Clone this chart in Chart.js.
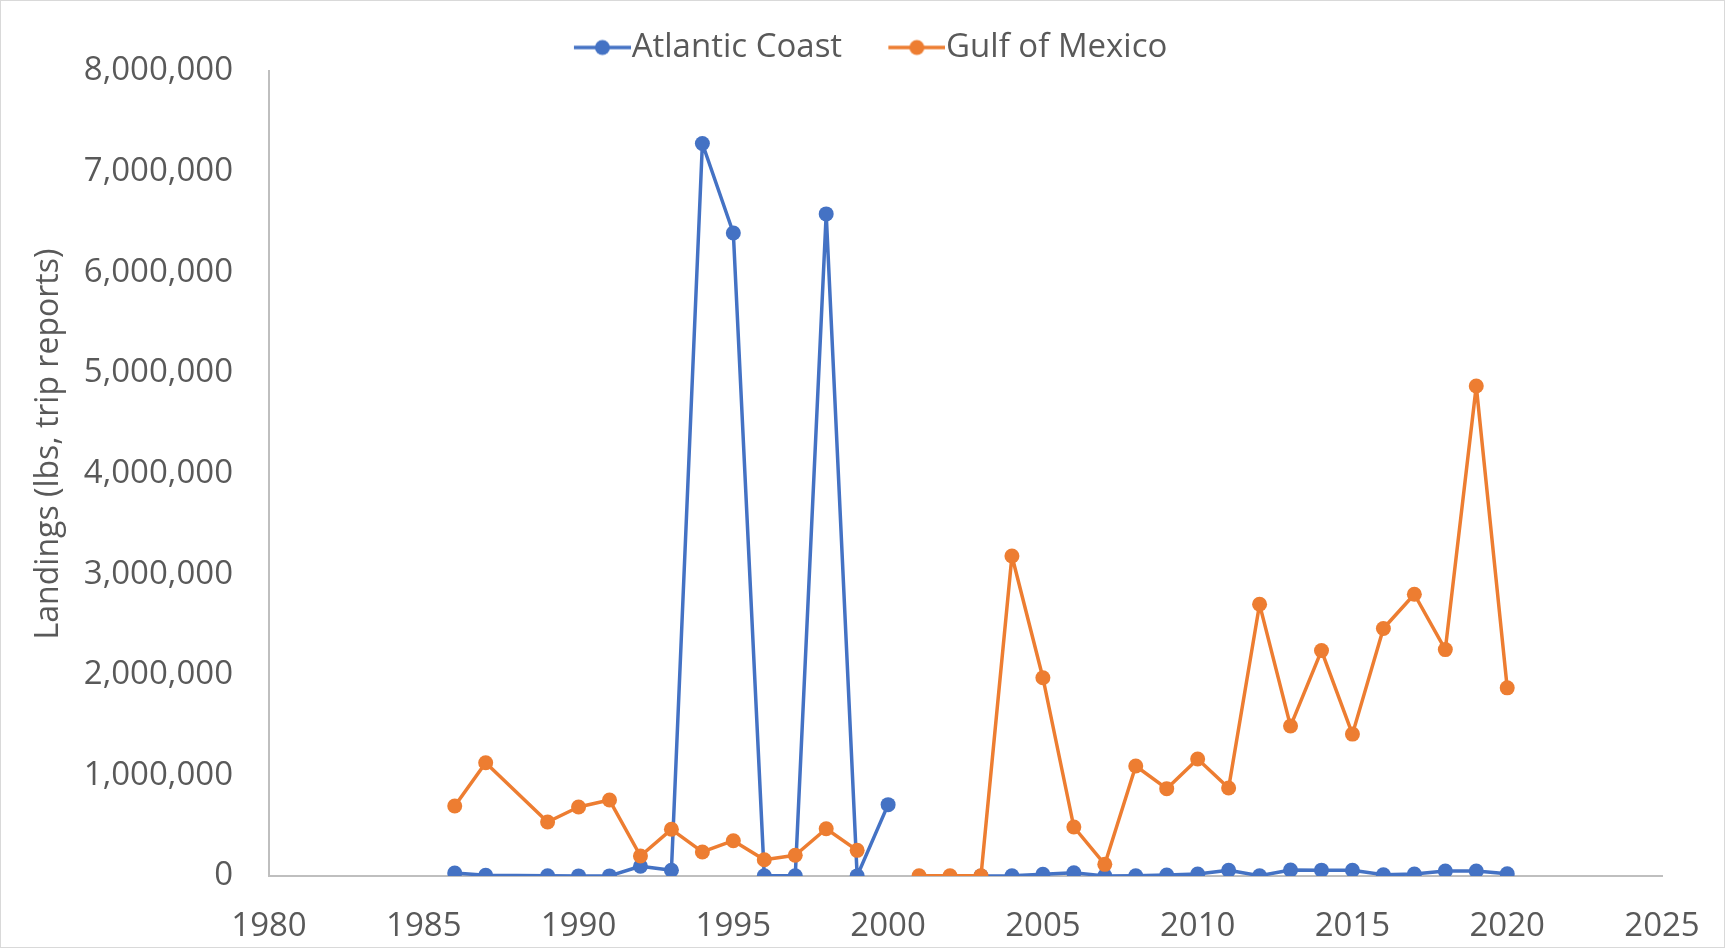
<!DOCTYPE html>
<html>
<head>
    <title>Landings</title>
    <style>
        body { margin: 0; background: #fff; }
        canvas { display: block; }
    </style>
</head>
<body>
    <canvas id="landingsChart" width="1725" height="948"></canvas>

    <script src="https://cdn.jsdelivr.net/npm/chart.js"></script>
    <script>
        // years in the data (1988 has no row)
        const years = [1986, 1987, 1989, 1990, 1991, 1992, 1993, 1994, 1995, 1996, 1997, 1998, 1999, 2000,
                       2001, 2002, 2003, 2004, 2005, 2006, 2007, 2008, 2009, 2010, 2011, 2012, 2013, 2014,
                       2015, 2016, 2017, 2018, 2019, 2020];

        const atlanticCoast = [30000, 7000, 2000, 1000, 1000, 97000, 57000, 7280000, 6390000, 2000, 2000, 6580000, 1000, 709000,
                               null, null, 1000, 3000, 17000, 33000, 1000, 3000, 10000, 20000, 57000, 3000, 60000, 58000,
                               57000, 13000, 20000, 50000, 50000, 23000];

        const gulfOfMexico = [696000, 1126000, 537000, 686000, 755000, 199000, 464000, 239000, 351000, 162000, 206000, 470000, 255000, null,
                              2000, 2000, 2000, 3180000, 1970000, 487000, 116000, 1093000, 868000, 1163000, 875000, 2700000, 1490000, 2240000,
                              1410000, 2460000, 2800000, 2250000, 4870000, 1870000];

        const seriesNames = ['Atlantic Coast', 'Gulf of Mexico'];
        const yAxisTitle = 'Landings (lbs, trip reports)';

        const blue = '#4472C4';
        const orange = '#ED7D31';
        const colors = [blue, orange];
        const textColor = '#595959';
        const fontFamily = '"Open Sans", "Noto Sans", sans-serif';

        function toPoints(vals) {
            return years.map((yr, i) => ({ x: yr, y: vals[i] }));
        }

        // legend marker: short line with a dot, drawn into a small canvas
        function legendMarker(color) {
            const c = document.createElement('canvas');
            c.width = 94;
            c.height = 18;
            const g = c.getContext('2d');
            g.strokeStyle = color;
            g.lineWidth = 3.5;
            g.beginPath();
            g.moveTo(37, 9);
            g.lineTo(94, 9);
            g.stroke();
            g.fillStyle = color;
            g.beginPath();
            g.arc(65.5, 9, 7.5, 0, Math.PI * 2);
            g.fill();
            return c;
        }

        const frame = {
            id: 'frame',
            afterLayout(chart) {
                // nudge the legend row down a little without moving the plot
                if (chart.legend) {
                    chart.legend.top += 3;
                    chart.legend.bottom += 3;
                }
            },
            beforeDraw(chart) {
                const ctx = chart.ctx;
                ctx.save();
                ctx.fillStyle = '#fff';
                ctx.fillRect(0, 0, chart.width, chart.height);
                ctx.strokeStyle = '#D9D9D9';
                ctx.lineWidth = 1;
                ctx.strokeRect(0.5, 0.5, chart.width - 1, chart.height - 1);
                ctx.restore();
            },
            afterDraw(chart) {
                const ctx = chart.ctx;
                ctx.save();
                ctx.translate(49, 444);
                ctx.rotate(-Math.PI / 2);
                ctx.font = '32px ' + fontFamily;
                ctx.fillStyle = textColor;
                ctx.textAlign = 'center';
                ctx.textBaseline = 'middle';
                ctx.fillText(yAxisTitle, 0, 0);
                ctx.restore();
            }
        };

        const ctx = document.getElementById('landingsChart').getContext('2d');
        const chart = new Chart(ctx, {
            type: 'scatter',
            data: {
                datasets: [
                    {
                        label: seriesNames[0],
                        data: toPoints(atlanticCoast),
                        showLine: true,
                        borderColor: blue,
                        backgroundColor: blue,
                        borderWidth: 3.5,
                        borderJoinStyle: 'round',
                        pointRadius: 7.5,
                        pointBorderWidth: 0,
                        pointHoverRadius: 7.5,
                        order: 1
                    },
                    {
                        label: seriesNames[1],
                        data: toPoints(gulfOfMexico),
                        showLine: true,
                        borderColor: orange,
                        backgroundColor: orange,
                        borderWidth: 3.5,
                        borderJoinStyle: 'round',
                        pointRadius: 7.5,
                        pointBorderWidth: 0,
                        pointHoverRadius: 7.5,
                        order: 0
                    }
                ]
            },
            options: {
                responsive: false,
                animation: false,
                spanGaps: false,
                layout: { padding: { top: 3, right: 63, bottom: 0, left: 58 } },
                plugins: {
                    tooltip: { enabled: false },
                    legend: {
                        position: 'top',
                        labels: {
                            usePointStyle: true,
                            pointStyleWidth: 62.5,
                            padding: 25,
                            color: textColor,
                            font: { family: fontFamily, size: 33 },
                            sort: (a, b) => a.datasetIndex - b.datasetIndex,
                            generateLabels(ch) {
                                const items = Chart.defaults.plugins.legend.labels.generateLabels(ch);
                                items.forEach(it => {
                                    it.pointStyle = legendMarker(colors[it.datasetIndex]);
                                });
                                return items;
                            }
                        }
                    }
                },
                scales: {
                    x: {
                        type: 'linear',
                        min: 1980,
                        max: 2025,
                        // invisible tick marks give the label gap without widening the side padding
                        grid: { display: true, drawOnChartArea: false, drawTicks: true, tickLength: 31, tickColor: 'rgba(0,0,0,0)' },
                        border: { display: true, color: '#BFBFBF', width: 2 },
                        ticks: {
                            stepSize: 5,
                            padding: 0,
                            color: textColor,
                            font: { family: fontFamily, size: 33 },
                            callback: v => String(v)
                        },
                        afterFit(scale) { scale.height = 72; }
                    },
                    y: {
                        min: 0,
                        max: 8000000,
                        grid: { display: false, drawTicks: false },
                        border: { display: true, color: '#BFBFBF', width: 2 },
                        ticks: {
                            stepSize: 1000000,
                            padding: 36,
                            color: textColor,
                            font: { family: fontFamily, size: 33 },
                            callback: v => v.toLocaleString('en-US')
                        },
                        afterFit(scale) { scale.width = 211; }
                    }
                }
            },
            plugins: [frame]
        });
    </script>
</body>
</html>
